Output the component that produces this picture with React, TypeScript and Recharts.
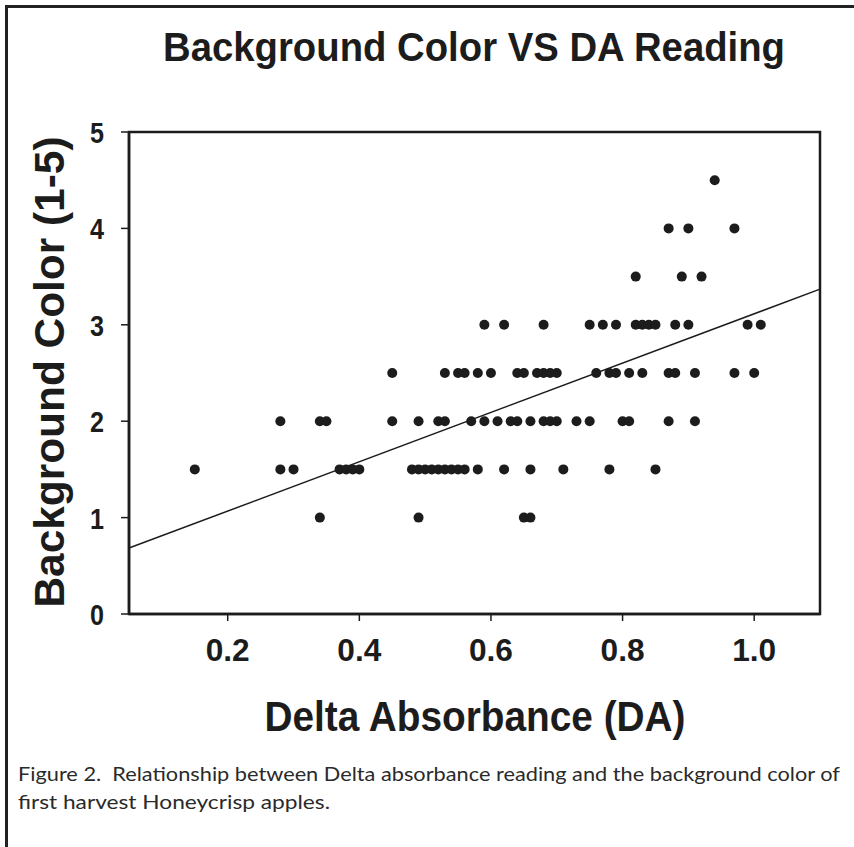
import React from 'react';
import { ScatterChart, Scatter, XAxis, YAxis, ReferenceLine, ReferenceArea } from 'recharts';

// Delta absorbance readings grouped by background colour score
const da_bg_1_0 = [0.34, 0.49, 0.65, 0.66];
const da_bg_1_5 = [0.15, 0.28, 0.30, 0.37, 0.38, 0.39, 0.40, 0.48, 0.49, 0.50, 0.51, 0.52, 0.53, 0.54, 0.55, 0.56, 0.58, 0.62, 0.66, 0.71, 0.78, 0.85];
const da_bg_2_0 = [0.28, 0.34, 0.35, 0.45, 0.49, 0.52, 0.53, 0.57, 0.59, 0.61, 0.63, 0.64, 0.66, 0.68, 0.69, 0.70, 0.73, 0.75, 0.80, 0.81, 0.87, 0.91];
const da_bg_2_5 = [0.45, 0.53, 0.55, 0.56, 0.58, 0.60, 0.64, 0.65, 0.67, 0.68, 0.69, 0.70, 0.76, 0.78, 0.79, 0.81, 0.83, 0.87, 0.88, 0.91, 0.97, 1.00];
const da_bg_3_0 = [0.59, 0.62, 0.68, 0.75, 0.77, 0.79, 0.82, 0.83, 0.84, 0.85, 0.88, 0.90, 0.99, 1.01];
const da_bg_3_5 = [0.82, 0.89, 0.92];
const da_bg_4_0 = [0.87, 0.90, 0.97];
const da_bg_4_5 = [0.94];

const bgScores = [1.0, 1.5, 2.0, 2.5, 3.0, 3.5, 4.0, 4.5];
const daGroups = [da_bg_1_0, da_bg_1_5, da_bg_2_0, da_bg_2_5, da_bg_3_0, da_bg_3_5, da_bg_4_0, da_bg_4_5];

const fitX = [0.05, 1.1];
const fitY = [0.684, 3.37];

const xTicks = [0.2, 0.4, 0.6, 0.8, 1.0];
const yTicks = [0, 1, 2, 3, 4, 5];
const xDomain = [0.05, 1.1];
const yDomain = [0, 5];

const title = 'Background Color VS DA Reading';
const xTitle = 'Delta Absorbance (DA)';
const yTitle = 'Background Color (1-5)';
const caption1 = 'Figure 2.  Relationship between Delta absorbance reading and the background color of';
const caption2 = 'first harvest Honeycrisp apples.';

const points = daGroups.flatMap((xs, i) => xs.map((x) => ({ x, y: bgScores[i] })));

const INK = '#1c1c1c';
const FONT = '"Liberation Sans", Arial, Helvetica, sans-serif';

const Dot = (props: any) => {
  const { cx, cy } = props;
  if (cx == null || cy == null) return null;
  return <circle cx={cx} cy={cy} r={5} fill={INK} />;
};

const XTick = (props: any) => {
  const { x, y, payload } = props;
  return (
    <text x={x} y={y + 22} textAnchor="middle" fontFamily={FONT} fontWeight="bold" fontSize={31} fill={INK} textLength={44} lengthAdjust="spacingAndGlyphs">
      {Number(payload.value).toFixed(1)}
    </text>
  );
};

const YTick = (props: any) => {
  const { x, y, payload } = props;
  return (
    <text x={x} y={y + 11} textAnchor="end" fontFamily={FONT} fontWeight="bold" fontSize={30} fill={INK} textLength={14} lengthAdjust="spacingAndGlyphs">
      {String(payload.value)}
    </text>
  );
};

export default function App() {
  return (
    <div style={{ position: 'absolute', left: 0, top: 0, width: 854, height: 847, background: '#fff', overflow: 'hidden' }}>
      <ScatterChart
        width={854}
        height={847}
        margin={{ top: 132, right: 34, bottom: 173, left: 69 }}
      >
        <XAxis
          type="number"
          dataKey="x"
          domain={xDomain}
          ticks={xTicks}
          allowDataOverflow
          height={60}
          axisLine={{ stroke: INK, strokeWidth: 2.5 }}
          tickLine={{ stroke: INK, strokeWidth: 1.5 }}
          tickSize={7}
          tickMargin={18}
          tick={<XTick />}
        />
        <YAxis
          type="number"
          dataKey="y"
          domain={yDomain}
          ticks={yTicks}
          allowDataOverflow
          width={60}
          axisLine={{ stroke: INK, strokeWidth: 2.5 }}
          tickLine={{ stroke: INK, strokeWidth: 1.5 }}
          tickSize={8}
          tickMargin={17}
          tick={<YTick />}
        />
        <ReferenceArea
          x1={xDomain[0]}
          x2={xDomain[1]}
          y1={yDomain[0]}
          y2={yDomain[1]}
          fill="none"
          fillOpacity={0}
          stroke={INK}
          strokeWidth={2.5}
          ifOverflow="visible"
        />
        <ReferenceLine
          segment={[{ x: fitX[0], y: fitY[0] }, { x: fitX[1], y: fitY[1] }]}
          stroke={INK}
          strokeWidth={1.5}
          ifOverflow="visible"
        />
        <Scatter data={points} shape={<Dot />} isAnimationActive={false} />
      </ScatterChart>
      <svg
        width={854}
        height={847}
        style={{ position: 'absolute', left: 0, top: 0, pointerEvents: 'none' }}
      >
        <path d="M6.5,847 V6.5 H854" fill="none" stroke="#222" strokeWidth={3} />
        <text x={474} y={61} textAnchor="middle" fontFamily={FONT} fontWeight="bold" fontSize={41} fill={INK} textLength={622} lengthAdjust="spacingAndGlyphs">
          {title}
        </text>
        <text x={475} y={731} textAnchor="middle" fontFamily={FONT} fontWeight="bold" fontSize={43} fill={INK} textLength={421} lengthAdjust="spacingAndGlyphs">
          {xTitle}
        </text>
        <text transform="translate(64,372) rotate(-90)" x={0} y={0} textAnchor="middle" fontFamily={FONT} fontWeight="bold" fontSize={43} fill={INK} textLength={471} lengthAdjust="spacingAndGlyphs">
          {yTitle}
        </text>
        <text x={18} y={781} fontFamily="Lato, 'Open Sans', sans-serif" fontSize={19} fill="#2a2a2a" textLength={822} lengthAdjust="spacingAndGlyphs" style={{ whiteSpace: 'pre' }}>
          {caption1}
        </text>
        <text x={18} y={809} fontFamily="Lato, 'Open Sans', sans-serif" fontSize={19} fill="#2a2a2a" textLength={312} lengthAdjust="spacingAndGlyphs" style={{ whiteSpace: 'pre' }}>
          {caption2}
        </text>
      </svg>
    </div>
  );
}
